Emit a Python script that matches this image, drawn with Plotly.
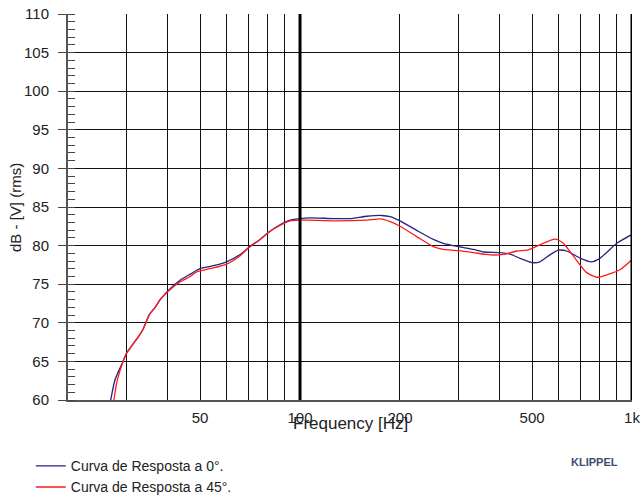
import numpy as np
import plotly.graph_objects as go

# ---- data ----
freq_0 = [26.9, 27.7, 29.3, 30, 32.6, 33.6, 35.2, 36.6, 37.9, 40.1, 43.5, 46.7, 48.8, 50.2,
          54.8, 60.1, 66, 70.3, 75.8, 80.3, 87, 93.3, 100, 107, 126, 141, 159, 176, 187, 200,
          224, 252, 270, 301, 333, 357, 400, 429, 460, 500, 528, 566, 600, 636, 700, 753,
          800, 900, 1000]
db_0 = [60, 62.6, 65, 66.05, 68.2, 69.1, 71.1, 72.0, 73.0, 74.2, 75.5, 76.3, 76.8, 77.05,
        77.4, 77.9, 78.85, 79.8, 80.8, 81.7, 82.7, 83.3, 83.5, 83.6, 83.5, 83.5, 83.8, 83.9,
        83.75, 83.2, 82.0, 80.8, 80.3, 79.86, 79.5, 79.17, 79.1, 78.9, 78.35, 77.8, 77.9,
        78.8, 79.4, 79.3, 78.35, 77.9, 78.35, 80.3, 81.45]

freq_45 = [27.5, 28.1, 29.3, 30, 32.6, 33.6, 35.2, 36.6, 37.9, 40.1, 43.5, 46.7, 48.8, 50.2,
           54.8, 60.1, 66, 70.3, 75.8, 80.3, 87, 93.3, 100, 107, 126, 159, 174, 187, 200, 224,
           252, 270, 301, 333, 373, 409, 450, 483, 528, 586, 621, 667, 730, 783, 838, 922, 1000]
db_45 = [60, 62.4, 65, 66.0, 68.2, 69.1, 71.1, 72.0, 73.0, 74.1, 75.3, 76.0, 76.6, 76.75,
         77.1, 77.6, 78.7, 79.8, 80.8, 81.7, 82.6, 83.2, 83.3, 83.3, 83.2, 83.3, 83.45, 83.1,
         82.5, 81.2, 79.86, 79.5, 79.34, 79.1, 78.8, 78.85, 79.3, 79.4, 80.1, 80.85, 80.3,
         78.6, 76.5, 75.9, 76.2, 76.9, 78.2]

series_names = ["Curva de Resposta a 0°.", "Curva de Resposta a 45°."]
series_colors = ["#232383", "#ff1a1a"]

x_grid = [30, 40, 50, 60, 70, 80, 90, 100, 200, 300, 400, 500, 600, 700, 800, 900, 1000]
x_labels = {50: "50", 100: "100", 200: "200", 500: "500", 1000: "1k"}
thick_lines = [100, 1000]
x_min, x_max = 20, 1000
y_min, y_max = 60, 110

FONT = "Liberation Sans, Arial, sans-serif"

fig = go.Figure()
for f, d, name, col in zip([freq_0, freq_45], [db_0, db_45], series_names, series_colors):
    fig.add_trace(go.Scatter(x=f, y=d, mode="lines", name=name, legendgroup=name,
                             line=dict(color=col, width=1.3, shape="spline", smoothing=0.6)))

fig.update_xaxes(type="log", range=[np.log10(x_min), np.log10(x_max)],
                 tickvals=x_grid, ticktext=[x_labels.get(v, "") for v in x_grid],
                 showgrid=True, gridcolor="#111111", gridwidth=1, ticks="",
                 showline=True, linecolor="#555555", linewidth=2,
                 ticklabelstandoff=3,
                 tickfont=dict(family=FONT, size=15, color="#222222"))
fig.update_yaxes(range=[y_min, y_max], dtick=5, tick0=0,
                 showgrid=True, gridcolor="#111111", gridwidth=1,
                 ticks="outside", ticklen=8, tickcolor="#444444", tickwidth=1,
                 showline=True, linecolor="#555555", linewidth=2,
                 minor=dict(dtick=1, ticks="inside", ticklen=7, tickcolor="#444444",
                            tickwidth=1, showgrid=False),
                 ticklabelstandoff=6,
                 tickfont=dict(family=FONT, size=15, color="#222222"))

for v in thick_lines:
    fig.add_shape(type="line", xref="x", yref="paper", x0=v, x1=v,
                  y0=0, y1=1, line=dict(color="black", width=3), layer="above")

fig.add_annotation(text="Frequency [Hz]", xref="paper", yref="paper", x=0.5, y=-0.062,
                   xanchor="center", yanchor="middle",
                   showarrow=False, font=dict(family=FONT, size=17, color="#222222"))
fig.add_annotation(text="dB - [V] (rms)", xref="paper", yref="paper", x=-0.094, y=0.5,
                   xanchor="center", yanchor="middle",
                   textangle=-90, showarrow=False, font=dict(family=FONT, size=15, color="#222222"))
fig.add_annotation(text="<b>KLIPPEL</b>", xref="paper", yref="paper", x=0.933, y=-0.161,
                   xanchor="center", yanchor="middle",
                   showarrow=False, font=dict(family=FONT, size=11, color="#3a4d6e"))

fig.update_layout(width=643, height=502,
                  margin=dict(l=68, r=11, t=14, b=102, autoexpand=False),
                  paper_bgcolor="white", plot_bgcolor="white",
                  showlegend=True,
                  legend=dict(x=-0.066, y=-0.13, xanchor="left", yanchor="top",
                              font=dict(family=FONT, size=14, color="#222222"),
                              tracegroupgap=0, itemwidth=30, bgcolor="rgba(0,0,0,0)"),
                  font=dict(family=FONT))

fig.write_html("out.html")
